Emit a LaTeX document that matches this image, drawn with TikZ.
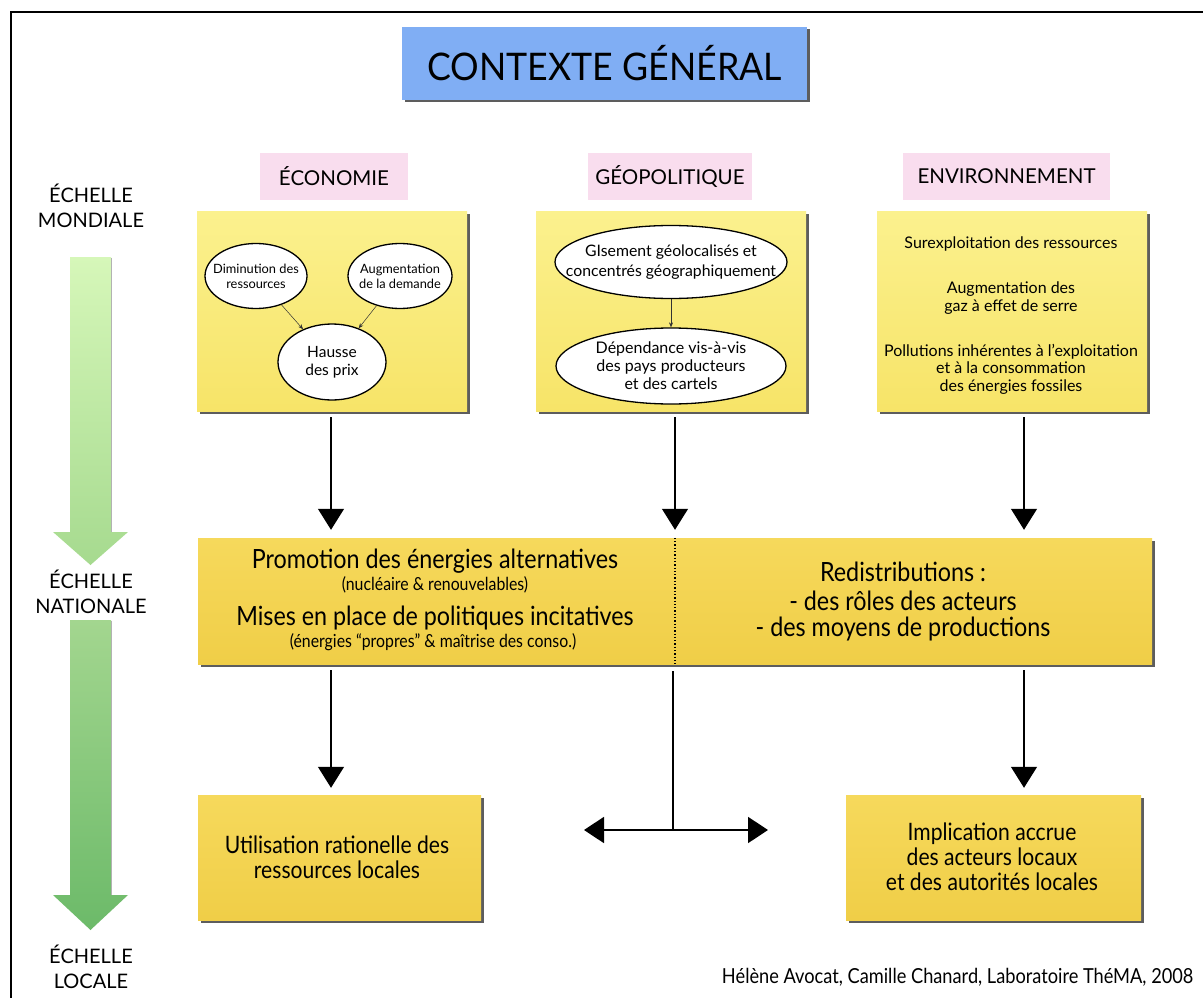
\documentclass[tikz,border=0pt]{standalone}
\usepackage{fontspec}
\setmainfont{Lato}
\newfontfamily\cond[FakeStretch=0.88]{Lato}
\newfontfamily\titlefont[FakeStretch=0.94]{Lato}
\usetikzlibrary{shapes.geometric,arrows.meta,shadows}
\definecolor{titleblue}{HTML}{80AEF4}
\definecolor{pinklab}{HTML}{F9DDEE}
\definecolor{ytop}{HTML}{FBF18E}
\definecolor{ybot}{HTML}{F7E468}
\definecolor{gtop}{HTML}{F6D95C}
\definecolor{gbot}{HTML}{F0CE47}
\definecolor{aoneT}{HTML}{D6F7B9}
\definecolor{aoneB}{HTML}{A6DA8F}
\definecolor{atwoT}{HTML}{A3D68F}
\definecolor{atwoB}{HTML}{6CBA69}
\tikzset{
  shadowbox/.style={drop shadow={shadow xshift=2.5pt,shadow yshift=-2.5pt,fill=black!70,opacity=0.9}},
  titlebox/.style={shadowbox,fill=titleblue,minimum width=405,minimum height=73,inner sep=0pt,font=\titlefont\fontsize{38}{44}\selectfont},
  pinkbox/.style={fill=pinklab,minimum height=47,inner sep=0pt,font=\fontsize{20.5}{24}\selectfont},
  topbox/.style={shadowbox,top color=ytop,bottom color=ybot,minimum width=270,minimum height=200,inner sep=0pt},
  goldbox/.style={shadowbox,top color=gtop,bottom color=gbot,inner sep=0pt},
  oval/.style={ellipse,draw,line width=1.3pt,fill=white,inner sep=-40pt,align=center},
  smallarrow/.style={-{Stealth[length=5pt,width=4pt]},line width=0.5pt,black!80},
  bigarrow/.style={-{Triangle[length=21pt,width=26pt]},line width=1.3pt},
  dblarrow/.style={{Triangle[length=20pt,width=26pt]}-{Triangle[length=20pt,width=26pt]},line width=1.8pt},
  scalelab/.style={align=center,font=\fontsize{20}{25}\selectfont},
  envtext/.style={align=center,font=\fontsize{16}{17.5}\selectfont},
  nattext/.style={align=center,font=\cond\fontsize{26.5}{30}\selectfont},
  natsmall/.style={align=center,font=\cond\fontsize{18}{20}\selectfont},
  bottext/.style={align=center,font=\cond\fontsize{24}{25}\selectfont},
  arrowedge/.style={black!30,line width=1pt},
}
\begin{document}
\begin{tikzpicture}[x=1pt,y=-1pt]
\useasboundingbox (0,0) rectangle (1203,998);
\fill[white] (0,0) rectangle (1203,998);
% frame
\draw[line width=2.5pt] (11,998) -- (11,12) -- (1203,12);

% scale arrows
\shade[top color=aoneT,bottom color=aoneB] (70,257) -- (111,257) -- (111,532) -- (128,532) -- (90.5,565) -- (53,532) -- (70,532) -- cycle;
\draw[arrowedge] (111,258) -- (111,532);
\shade[top color=atwoT,bottom color=atwoB] (70,620) -- (111,620) -- (111,895) -- (128,895) -- (90.5,930) -- (53,895) -- (70,895) -- cycle;
\draw[arrowedge] (111,621) -- (111,895);
\node[scalelab] (lmond) at (91,205.5) {ÉCHELLE\\MONDIALE};
\node[scalelab] (lnat) at (91,592) {ÉCHELLE\\NATIONALE};
\node[scalelab] (lloc) at (91,967) {ÉCHELLE\\LOCALE};

% title
\node[titlebox] (title) at (604.5,63.5) {CONTEXTE GÉNÉRAL};

% category labels
\node[pinkbox,minimum width=148] (ecolab) at (334,176.5) {ÉCONOMIE};
\node[pinkbox,minimum width=164] (geolab) at (670,176.5) {GÉOPOLITIQUE};
\node[pinkbox,minimum width=207] (envlab) at (1006.5,176.5) {ENVIRONNEMENT};

% top boxes
\node[topbox] (eco) at (332,311) {};
\node[topbox] (geo) at (671,311) {};
\node[topbox] (env) at (1012,311) {};

% economy ovals
\node[oval,minimum width=102,minimum height=65,font=\fontsize{12.8}{15}\selectfont] (dim) at (256,276) {Diminution des\\ressources};
\node[oval,minimum width=104,minimum height=65,font=\fontsize{12.8}{15}\selectfont] (aug) at (400,276) {Augmentation\\de la demande};
\node[oval,minimum width=108,minimum height=76,font=\fontsize{15.5}{18}\selectfont] (prix) at (332,362) {Hausse\\des prix};
\draw[smallarrow] (dim) -- (prix);
\draw[smallarrow] (aug) -- (prix);

% geopolitics ovals
\node[oval,minimum width=232,minimum height=73,font=\fontsize{15.8}{20}\selectfont] (gis) at (671,262) {GIsement géolocalisés et\\concentrés géographiquement};
\node[oval,minimum width=230,minimum height=76,font=\fontsize{16}{18}\selectfont] (dep) at (671,366) {Dépendance vis-à-vis\\des pays producteurs\\et des cartels};
\draw[smallarrow] (gis) -- (dep);

% environment texts
\node[envtext] (e1) at (1011,244) {Surexploitation des ressources};
\node[envtext] (e2) at (1011,298) {Augmentation des\\gaz à effet de serre};
\node[envtext] (e3) at (1011,369) {Pollutions inhérentes à l’exploitation\\et à la consommation\\des énergies fossiles};

% national box
\node[goldbox,minimum width=954,minimum height=126] (nat) at (675,601) {};
\coordinate (div) at (675,600);
\draw[dotted,line width=1.3pt] (div |- nat.north) -- (div |- nat.south);
\node[nattext] (p1) at (435,561) {Promotion des énergies alternatives};
\node[natsmall] (p1s) at (435,585) {(nucléaire \& renouvelables)};
\node[nattext] (p2) at (435,618) {Mises en place de politiques incitatives};
\node[natsmall] (p2s) at (433,642) {(énergies “propres” \& maîtrise des conso.)};
\node[nattext] (r1) at (903,572) {Redistributions :};
\node[nattext] (r2) at (903,601) {- des rôles des acteurs};
\node[nattext] (r3) at (903,629) {- des moyens de productions};

% bottom boxes
\node[goldbox,minimum width=283,minimum height=125] (bl) at (339.5,857.5) {};
\node[bottext] (blt) at (337,857) {Utilisation rationelle des\\ressources locales};
\node[goldbox,minimum width=295,minimum height=125] (br) at (993.5,857.5) {};
\node[bottext] (brt) at (992,857) {Implication accrue\\des acteurs locaux\\et des autorités locales};

% arrows global -> national
\coordinate (ex) at (331,0);
\coordinate (vx) at (1024,0);
\draw[bigarrow,shorten <=6pt,shorten >=8pt] (ex |- eco.south) -- (ex |- nat.north);
\draw[bigarrow,shorten <=6pt,shorten >=8pt] (div |- geo.south) -- (div |- nat.north);
\draw[bigarrow,shorten <=6pt,shorten >=8pt] (vx |- env.south) -- (vx |- nat.north);

% arrows national -> local
\draw[bigarrow,shorten <=6pt,shorten >=7pt] (ex |- nat.south) -- (ex |- bl.north);
\draw[bigarrow,shorten <=6pt,shorten >=7pt] (vx |- nat.south) -- (vx |- br.north);
\coordinate (mid) at (673,830);
\coordinate (hl) at (584,830);
\coordinate (hr) at (768,830);
\draw[line width=1.3pt,shorten <=7pt] (nat.south -| mid) -- (mid);
\draw[dblarrow] (hl) -- (hr);

% credit
\node[anchor=east,font=\cond\fontsize{20.7}{24}\selectfont] (credit) at (1197,977) {Hélène Avocat, Camille Chanard, Laboratoire ThéMA, 2008};
\end{tikzpicture}
\end{document}
